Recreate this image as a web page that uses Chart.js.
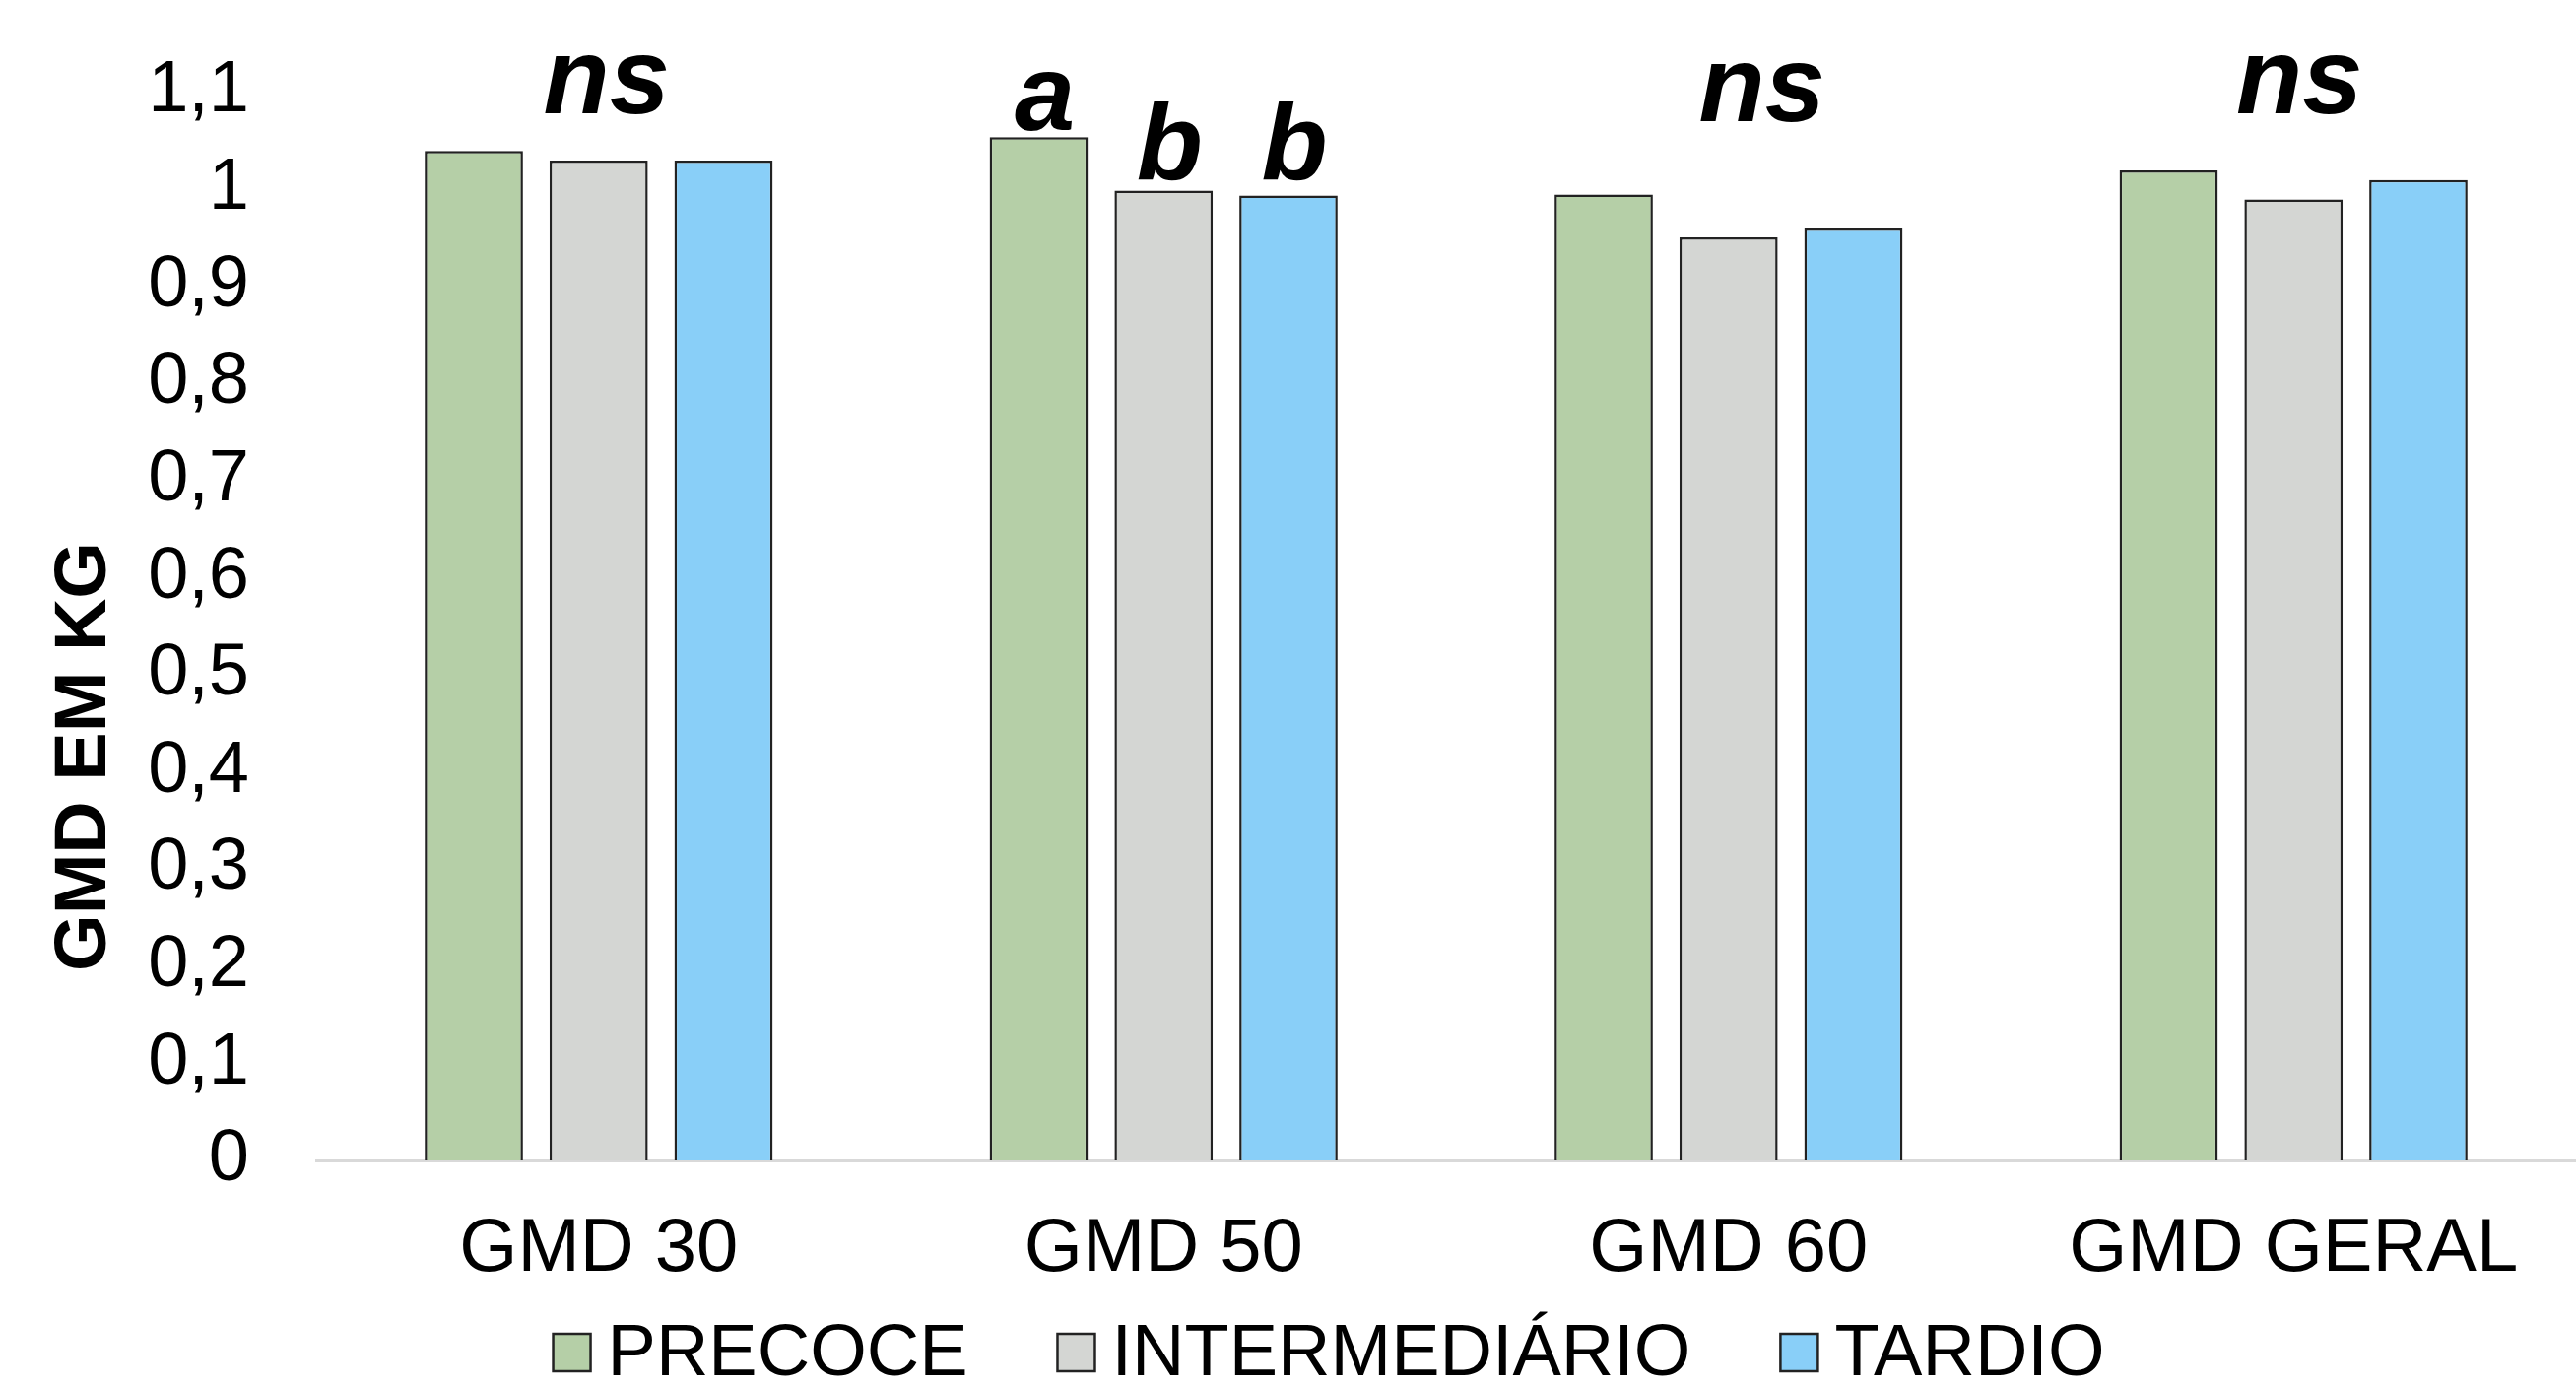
<!DOCTYPE html>
<html>
<head>
<meta charset="utf-8">
<script src="https://cdn.jsdelivr.net/npm/chart.js@4.4.1/dist/chart.umd.min.js"></script>
<style>
  html, body { margin: 0; padding: 0; background: #fff; }
  canvas { display: block; }
</style>
</head>
<body>
<canvas id="gmdChart" width="2615" height="1408"></canvas>
<script>
// data
const categories = ['GMD 30', 'GMD 50', 'GMD 60', 'GMD GERAL'];
const seriesNames = ['PRECOCE', 'INTERMEDIÁRIO', 'TARDIO'];
const precoce = [1.039, 1.053, 0.994, 1.019];
const intermediario = [1.029, 0.998, 0.950, 0.989];
const tardio = [1.029, 0.993, 0.960, 1.009];
const yTicks = [0, 0.1, 0.2, 0.3, 0.4, 0.5, 0.6, 0.7, 0.8, 0.9, 1, 1.1];

// significance letters: one label over the whole group, or one per bar
const sigLetters = [['ns'], ['a', 'b', 'b'], ['ns'], ['ns']];
const sigLevels = [[1.078], [1.060, 1.010, 1.010], [1.070], [1.078]];

const seriesColors = ['#b5cfa7', '#d4d6d3', '#89cff8'];
const FONT = '"Liberation Sans", Arial, sans-serif';
// small horizontal nudge of the group labels (px), as in the original
const sigNudge = [8, 6, 34, 6];

// y axis title, placed like the original (not centred on the plot)
const yTitlePlugin = {
    id: 'yTitle',
    afterDraw(chart) {
        const ctx = chart.ctx;
        ctx.save();
        ctx.translate(87, 768);
        ctx.rotate(-Math.PI / 2);
        ctx.font = 'bold 74px ' + FONT;
        ctx.fillStyle = '#000';
        ctx.textAlign = 'center';
        ctx.textBaseline = 'middle';
        ctx.fillText('GMD EM KG', 0, 0);
        ctx.restore();
    }
};

// letters over the bars
const sigPlugin = {
    id: 'sigLetters',
    afterDatasetsDraw(chart) {
        const ctx = chart.ctx;
        const xs = chart.scales.x, ys = chart.scales.y;
        ctx.save();
        ctx.font = 'italic bold 110px ' + FONT;
        ctx.fillStyle = '#000';
        ctx.textAlign = 'center';
        ctx.textBaseline = 'alphabetic';
        sigLetters.forEach((letters, i) => {
            letters.forEach((txt, j) => {
                let x;
                if (letters.length === 1) {
                    x = xs.getPixelForValue(i);
                } else {
                    x = chart.getDatasetMeta(j).data[i].x;
                }
                const y = ys.getPixelForValue(sigLevels[i][j]);
                ctx.fillText(txt, x + sigNudge[i], y);
            });
        });
        ctx.restore();
    }
};

// legend drawn under the axis, Excel style spacing
const legendPlugin = {
    id: 'bottomLegend',
    afterDraw(chart) {
        const ctx = chart.ctx;
        ctx.save();
        ctx.font = '74px ' + FONT;
        const box = 38, gapText = 17, gapItem = 91;
        const items = chart.data.datasets.map(ds => ({
            text: ds.label,
            color: ds.backgroundColor,
            w: ctx.measureText(ds.label).width
        }));
        const total = items.reduce((s, it) => s + box + gapText + it.w, 0) + gapItem * (items.length - 1);
        let x = 1349 - total / 2;
        const baseline = 1396;
        items.forEach(it => {
            ctx.fillStyle = it.color;
            ctx.fillRect(x, 1354, box, box);
            ctx.strokeStyle = '#222';
            ctx.lineWidth = 2.5;
            ctx.strokeRect(x, 1354, box, box);
            ctx.fillStyle = '#000';
            ctx.textBaseline = 'alphabetic';
            ctx.fillText(it.text, x + box + gapText, baseline);
            x += box + gapText + it.w + gapItem;
        });
        ctx.restore();
    }
};

const seriesValues = [precoce, intermediario, tardio];

const ctx = document.getElementById('gmdChart').getContext('2d');
const gmdChart = new Chart(ctx, {
    type: 'bar',
    data: {
        labels: categories,
        datasets: seriesNames.map((name, k) => ({
            label: name,
            data: seriesValues[k],
            backgroundColor: seriesColors[k],
            borderColor: '#222',
            borderWidth: 2.5,
            categoryPercentage: 0.663,
            barPercentage: 0.787
        }))
    },
    options: {
        responsive: false,
        animation: false,
        devicePixelRatio: 1,
        layout: {
            padding: { top: 93, left: 0, right: 0, bottom: 80 }
        },
        scales: {
            x: {
                grid: { display: false, drawTicks: false },
                border: { display: true, color: '#d9d9d9', width: 3 },
                ticks: {
                    color: '#000',
                    padding: 45,
                    maxRotation: 0,
                    font: { family: FONT, size: 76 }
                },
                afterFit(scale) { scale.height = 150; }
            },
            y: {
                min: 0,
                max: 1.1,
                grid: { display: false, drawTicks: false },
                border: { display: false },
                afterBuildTicks(scale) {
                    scale.ticks = yTicks.map(v => ({ value: v }));
                },
                ticks: {
                    color: '#000',
                    padding: 68,
                    font: { family: FONT, size: 74 },
                    callback: v => String(Math.round(v * 10) / 10).replace('.', ',')
                },
                afterFit(scale) {
                    scale.width = 321;
                    // tick padding is horizontal here, don't let it push the plot down
                    scale.paddingTop = 0;
                    scale.paddingBottom = 0;
                }
            }
        },
        plugins: {
            legend: { display: false },
            tooltip: { enabled: false }
        }
    },
    plugins: [yTitlePlugin, sigPlugin, legendPlugin]
});
</script>
</body>
</html>
